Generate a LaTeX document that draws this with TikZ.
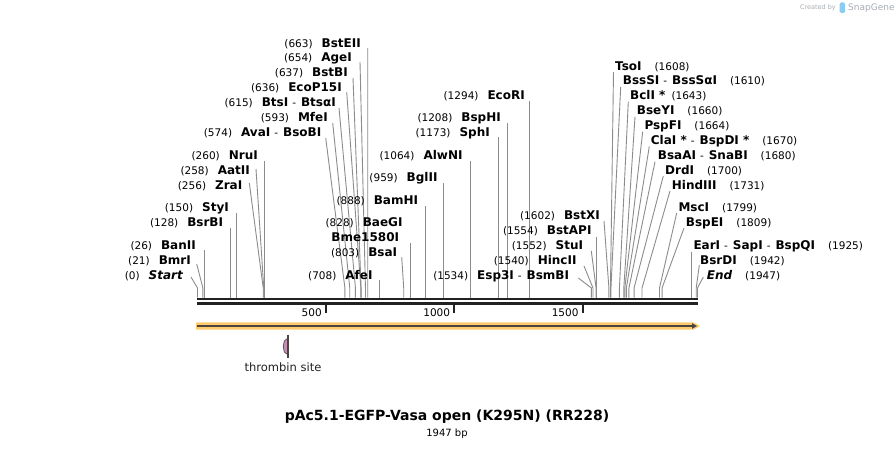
\documentclass[tikz,border=0pt]{standalone}
\usepackage{fontspec}
\setmainfont{DejaVu Sans}
\definecolor{siteg}{HTML}{8C8C8C}
\definecolor{bbone}{HTML}{222222}
\definecolor{featband}{HTML}{FFCA6E}
\definecolor{featline}{HTML}{4A4540}
\definecolor{thromb}{HTML}{C58FB2}
\definecolor{wmgray}{HTML}{A8ADB3}
\definecolor{wmblue}{HTML}{8CCBF2}
\newcommand\nm[1]{{\fontsize{10.5}{12}\selectfont(#1)}}
\newcommand\en[1]{{\bfseries #1}}
\newcommand\G{\hspace{9pt}}
\newcommand\GR{\hspace{13pt}}
\newcommand\sepd{\hspace{4pt}{\fontsize{10.5}{12}\selectfont -}\hspace{5pt}}
\tikzset{
  lab/.style={inner sep=0pt, font=\fontsize{12}{14}\selectfont},
  site/.style={draw=siteg, line width=0.9pt},
  declare function={sx(\b)=197.5+\b*0.256805;}
}
% id, text end x, center y, content, line start x, line start y, bp
\newcommand\Lenz[7]{%
  \node[lab,anchor=base east] (t#1) at ({#2},{#3+4.2}) {#4};
  \coordinate (a#1) at ({#5},{#6});
  \coordinate (b#1) at ({sx(#7)},288);
  \coordinate (c#1) at ({sx(#7)},297.5);
  \draw[site] (a#1) -- (b#1) -- (c#1);
}
\newcommand\Renz[7]{%
  \node[lab,anchor=base west] (t#1) at ({#2},{#3+4.2}) {#4};
  \coordinate (a#1) at ({#5},{#6});
  \coordinate (b#1) at ({sx(#7)},288);
  \coordinate (c#1) at ({sx(#7)},297.5);
  \draw[site] (a#1) -- (b#1) -- (c#1);
}
\begin{document}
\begin{tikzpicture}[x=1pt,y=-1pt]
\useasboundingbox (0,0) rectangle (896,449);
\fill[white] (0,0) rectangle (896,449);

% watermark
\node[inner sep=0pt, anchor=base east, text=wmgray, font=\fontsize{6.5}{8}\selectfont] (cb) at (836,10) {Created by};
\fill[wmblue, rounded corners=1.5pt] (839.5,2.5) rectangle (845,13) coordinate (logo);
\node[inner sep=0pt, anchor=base west, text=wmgray, font=\fontsize{9}{11}\selectfont] (sg) at (848,11) {SnapGene};

% left upper cluster
\Lenz{BstEII}{361}{43}{\nm{663}\G\en{BstEII}}{367.7}{48}{663}
\Lenz{AgeI}{352}{57}{\nm{654}\G\en{AgeI}}{360}{62}{654}
\Lenz{BstBI}{348}{72}{\nm{637}\G\en{BstBI}}{353}{78}{637}
\Lenz{EcoP}{342}{87}{\nm{636}\G\en{EcoP15I}}{346.7}{92}{636}
\Lenz{BtsI}{336}{102}{\nm{615}\G\en{BtsI}\sepd\en{BtsαI}}{339}{108}{615}
\Lenz{MfeI}{328}{117}{\nm{593}\G\en{MfeI}}{332.7}{123}{593}
\Lenz{AvaI}{321.5}{132}{\nm{574}\G\en{AvaI}\sepd\en{BsoBI}}{325.7}{138}{574}
% left lower
\Lenz{NruI}{258}{155}{\nm{260}\G\en{NruI}}{sx(260)}{161}{260}
\Lenz{AatII}{250}{170}{\nm{258}\G\en{AatII}}{256}{169}{258}
\Lenz{ZraI}{242.5}{185}{\nm{256}\G\en{ZraI}}{249.3}{183}{256}
\Lenz{StyI}{229}{207}{\nm{150}\G\en{StyI}}{sx(150)}{213}{150}
\Lenz{BsrBI}{223.3}{222}{\nm{128}\G\en{BsrBI}}{sx(128)}{228}{128}
\Lenz{BanII}{196}{245}{\nm{26}\G\en{BanII}}{sx(26)}{250}{26}
\Lenz{BmrI}{191}{260}{\nm{21}\G\en{BmrI}}{196.7}{264}{21}
\Lenz{Start}{183}{275}{\nm{0}\G{\bfseries\itshape Start}}{191}{277}{0}
% middle
\Lenz{EcoRI}{525}{95}{\nm{1294}\G\en{EcoRI}}{sx(1294)}{101}{1294}
\Lenz{BspHI}{501}{117}{\nm{1208}\G\en{BspHI}}{sx(1208)}{123}{1208}
\Lenz{SphI}{490}{132}{\nm{1173}\G\en{SphI}}{sx(1173)}{137.5}{1173}
\Lenz{AlwNI}{462.7}{155}{\nm{1064}\G\en{AlwNI}}{sx(1064)}{161}{1064}
\Lenz{BglII}{437.7}{177}{\nm{959}\G\en{BglII}}{sx(959)}{183}{959}
\Lenz{BamHI}{418.3}{200}{\nm{888}\G\en{BamHI}}{sx(888)}{206}{888}
\node[lab,anchor=base east] (tBaeGI) at (402.7,226.2) {\nm{828}\G\en{BaeGI}};
\Lenz{Bme}{399.3}{237}{\en{Bme1580I}}{sx(828)}{243}{828}
\Lenz{BsaI}{397.3}{252}{\nm{803}\G\en{BsaI}}{401.7}{257}{803}
\Lenz{AfeI}{372.7}{275}{\nm{708}\G\en{AfeI}}{sx(708)}{280}{708}
\Lenz{Esp}{569.3}{275}{\nm{1534}\G\en{Esp3I}\sepd\en{BsmBI}}{578.3}{278}{1534}
\Lenz{HincII}{576.7}{260}{\nm{1540}\G\en{HincII}}{584}{266}{1540}
\Lenz{StuI}{583.3}{245}{\nm{1552}\G\en{StuI}}{591.3}{251}{1552}
\Lenz{BstAPI}{591.7}{230}{\nm{1554}\G\en{BstAPI}}{sx(1554)}{236.7}{1554}
\Lenz{BstXI}{600}{215}{\nm{1602}\G\en{BstXI}}{604}{221}{1602}
% right
\Renz{TsoI}{615}{66}{\en{TsoI}\GR\nm{1608}}{613.5}{72}{1608}
\Renz{BssSI}{622.7}{80}{\en{BssSI}\sepd\en{BssSαI}\GR\nm{1610}}{620.7}{87}{1610}
\Renz{BclI}{630}{95.5}{\en{BclI *}\hspace{6pt}\nm{1643}}{628.3}{101.7}{1643}
\Renz{BseYI}{636.7}{110}{\en{BseYI}\GR\nm{1660}}{635}{116.7}{1660}
\Renz{PspFI}{644.3}{125}{\en{PspFI}\GR\nm{1664}}{642.7}{131.7}{1664}
\Renz{ClaI}{650.7}{140}{\en{ClaI *}\sepd\en{BspDI *}\GR\nm{1670}}{649.3}{146.5}{1670}
\Renz{BsaAI}{657.7}{155}{\en{BsaAI}\sepd\en{SnaBI}\GR\nm{1680}}{655}{161.7}{1680}
\Renz{DrdI}{665}{170}{\en{DrdI}\GR\nm{1700}}{663.3}{176}{1700}
\Renz{HindIII}{671.7}{185}{\en{HindIII}\GR\nm{1731}}{670}{191}{1731}
\Renz{MscI}{678.3}{207}{\en{MscI}\GR\nm{1799}}{676.7}{213}{1799}
\Renz{BspEI}{685.7}{222}{\en{BspEI}\GR\nm{1809}}{684}{228}{1809}
\Renz{EarI}{693.3}{245}{\en{EarI}\sepd\en{SapI}\sepd\en{BspQI}\GR\nm{1925}}{sx(1925)}{251.7}{1925}
\Renz{BsrDI}{700}{260}{\en{BsrDI}\GR\nm{1942}}{699.3}{265}{1942}
\Renz{End}{706.7}{275}{{\bfseries\itshape End}\GR\nm{1947}}{703.3}{277}{1947}

% backbone
\draw[bbone, line width=2.4pt] (197,299.2) coordinate (bbL) -- (697.5,299.2) coordinate (bbR);
\draw[bbone, line width=2.4pt] (197,303.4) coordinate (bbL2) -- (697.5,303.4) coordinate (bbR2);
% ticks
\foreach \t/\l in {500/500,1000/1000,1500/1500}{
  \draw[bbone, line width=2pt] ({sx(\t)},304) coordinate (tk\t) -- ({sx(\t)},312.5);
  \node[inner sep=0pt, anchor=base east, font=\fontsize{10.5}{12}\selectfont] (tl\t) at ({sx(\t)-4},316) {\l};
}
% feature arrow
\fill[featband] (196,322.3) -- (693.5,322.3) -- (699.8,326) -- (693.5,329.7) -- (196,329.7) -- cycle;
\draw[featline, line width=2.2pt] (197,326) coordinate (fL) -- (693,326) coordinate (fR);
\fill[featline] (692,323.2) -- (697,326) -- (692,328.8) -- cycle;
% thrombin site
\fill[thromb] (288,338) -- (288,355) -- (284.3,352) -- (283.2,346.5) -- (284.3,341) -- cycle;
\draw[featline, line width=0.6pt] (288,338) -- (284.3,341) -- (283.2,346.5) -- (284.3,352) -- (288,355);
\draw[featline, line width=1.1pt] (288,334.5) coordinate (thT) -- (288,358) coordinate (thB);
\node[inner sep=0pt, font=\fontsize{11.5}{13}\selectfont, text=bbone] (thlab) at (283,367.5) {thrombin site};
% title
\node[inner sep=0pt, font=\fontsize{14}{16}\selectfont\bfseries] (title) at (447,417) {pAc5.1-EGFP-Vasa open (K295N) (RR228)};
\node[inner sep=0pt, font=\fontsize{10}{12}\selectfont] (bp) at (447,433.5) {1947 bp};
\end{tikzpicture}
\end{document}
